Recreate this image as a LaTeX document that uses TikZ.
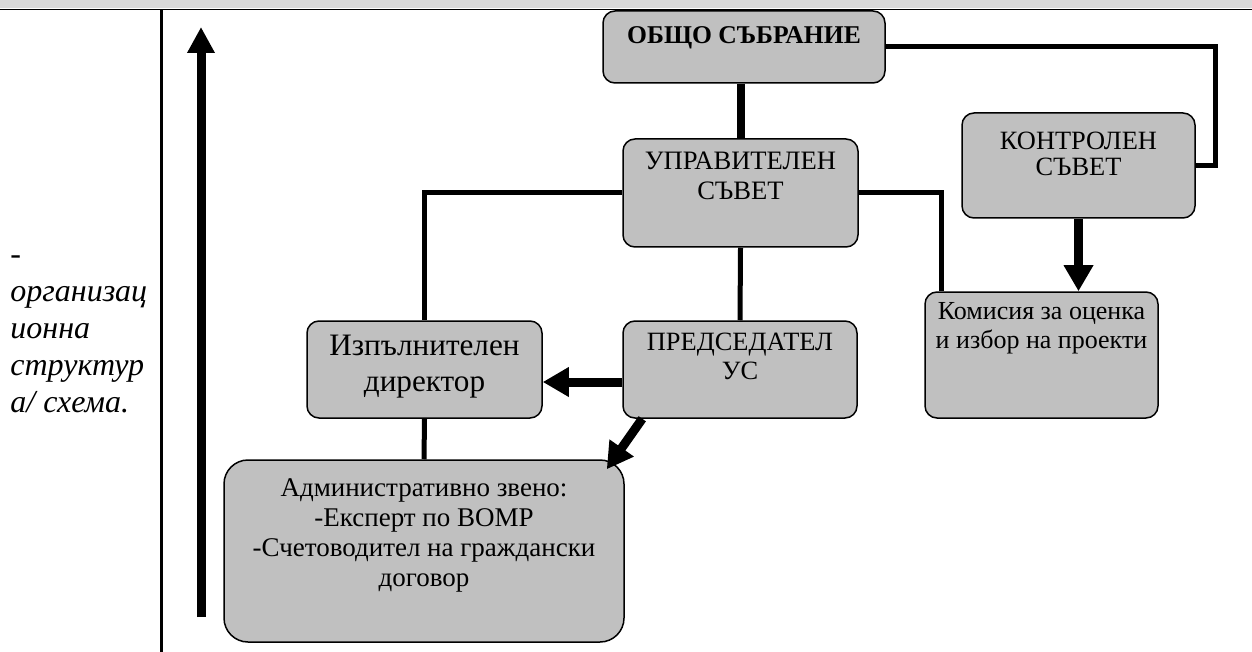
\documentclass[tikz,border=0pt]{standalone}
\usepackage{fontspec}
\setmainfont{Liberation Serif}
\usetikzlibrary{arrows.meta}
\definecolor{boxgray}{HTML}{C0C0C0}
\definecolor{topgray}{HTML}{D9D9D9}
\newcommand{\bxt}[6]{\parbox[c][#2][t]{#1}{\fontsize{#4}{#5}\selectfont\centering\vspace*{#3}#6\par}}
\tikzset{
  box/.style={draw=black, line width=0.75pt, fill=boxgray, rounded corners=6pt, inner sep=0pt},
  conn/.style={line width=2.5pt},
  arr/.style={line width=4.5pt, -{Triangle[width=14pt,length=13pt]}},
}
\begin{document}
\begin{tikzpicture}[x=0.5pt,y=-0.5pt]
\useasboundingbox (0,0) rectangle (1252,652);
% top band and frame
\fill[topgray] (0,0) rectangle (1252,8);
\draw[line width=0.75pt] (0,9.5) -- (1252,9.5);
\draw[line width=1.5pt] (161,9.5) -- (161,652);
% left text
\node[anchor=north west, inner sep=0pt, align=left,
      font=\fontsize{16pt}{18.5pt}\selectfont\itshape] (lt) at (10,238)
  {\strut-\\организац\\ионна\\структур\\а/ схема.};
% boxes
\node[box] (obsh) at (744,47)
  {\bxt{141pt}{36pt}{8pt}{12.8pt}{15pt}{\bfseries ОБЩО СЪБРАНИЕ}};
\node[box] (upr) at (740.5,193)
  {\bxt{117.5pt}{54pt}{6.3pt}{13.3pt}{15pt}{УПРАВИТЕЛЕН\\СЪВЕТ}};
\node[box] (kontr) at (1078.5,165.5)
  {\bxt{116.5pt}{52.5pt}{9.7pt}{13.2pt}{13pt}{КОНТРОЛЕН\\СЪВЕТ}};
\node[box] (kom) at (1041.5,355)
  {\bxt{116.5pt}{63pt}{5pt}{13pt}{14.5pt}{Комисия за оценка\\и избор на проекти}};
\node[box] (pred) at (740,369.5)
  {\bxt{117pt}{48.5pt}{6pt}{13.2pt}{14.5pt}{ПРЕДСЕДАТЕЛ\\УС}};
\node[box] (izp) at (424.5,369.5)
  {\bxt{117.5pt}{48.5pt}{6.8pt}{15.6pt}{18pt}{Изпълнителен\\директор}};
\node[box, rounded corners=12pt] (adm) at (424,551)
  {\bxt{200pt}{91pt}{9.5pt}{13.5pt}{15pt}{Административно звено:\\-Експерт по ВОМР\\-Счетоводител на граждански\\договор}};
% connectors
\draw[line width=4pt] (upr.north |- obsh.south) -- (upr.north);
\draw[conn] (upr.west) -| (izp.north);
\draw[conn] (upr.east) -| ([xshift=8.5pt]kom.north west);
\draw[conn] (upr.south) -- (pred.north);
\draw[conn] (obsh.east) -- ++(330,0) |- (kontr.east);
\draw[conn] (izp.south) -- (adm.north);
\draw[arr] (kontr.south) -- (kontr.south |- kom.north);
\draw[arr] ([yshift=-6.25pt]pred.west) -- ([yshift=-6.25pt]izp.east);
\draw[arr] ([xshift=10pt]pred.south west) -- ([xshift=-9pt,yshift=-5pt]adm.north east);
% big vertical arrow
\coordinate (abot) at (201,617);
\coordinate (atop) at (201,27);
\draw[line width=4.5pt, -{Triangle[width=13pt,length=13pt]}] (abot) -- (atop);
\end{tikzpicture}
\end{document}
